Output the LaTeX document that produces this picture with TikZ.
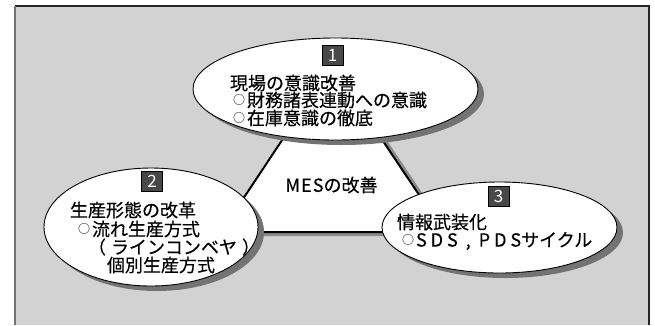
\documentclass[tikz,border=0pt]{standalone}
\usepackage{fontspec}
\setmainfont{Noto Sans CJK JP}[FakeBold=0.35]
\newfontfamily\plainjp{Noto Sans CJK JP}
\usetikzlibrary{shapes.geometric,shadows}
\definecolor{bggray}{RGB}{210,210,210}
\definecolor{ellshadow}{RGB}{115,115,115}
\definecolor{trishadow}{RGB}{138,138,138}
\definecolor{boxgray}{RGB}{72,72,72}
\begin{document}
\begin{tikzpicture}[x=1pt,y=-1pt,
  every node/.style={inner sep=0pt, outer sep=0pt},
  jp/.style={anchor=west, font=\fontsize{18}{18}\selectfont},
  ell/.style={ellipse, draw=black, line width=0.9pt, fill=white,
    drop shadow={shadow xshift=6pt, shadow yshift=-5pt, fill=ellshadow, opacity=1}},
  numbox/.style={draw=black, line width=0.4pt, fill=boxgray, text=white,
    minimum width=21pt, minimum height=20pt, font=\plainjp\fontsize{17}{17}\selectfont}
]
\newcommand{\smallcirc}{\raisebox{2.5pt}{\plainjp\fontsize{12}{12}\selectfont ○}\hspace{2pt}}
\useasboundingbox (0,0) rectangle (655,325);
% frame
\fill[bggray] (15,6) rectangle (649,325);
\draw[line width=1.5pt, black!85] (15,6) -- (649,6) -- (649,325);
\draw[line width=1.8pt, black!55] (15,6) -- (15,325);
% triangle
\coordinate (ta) at (332,65);
\coordinate (tl) at (221,232);
\coordinate (tr) at (444,232);
\fill[trishadow] ([shift={(7,4)}]ta) -- ([shift={(7,4)}]tl) -- ([shift={(7,4)}]tr) -- cycle;
\draw[line width=2pt, fill=white] (ta) -- (tl) -- (tr) -- cycle;
\node[font=\fontsize{18}{18}\selectfont] (mes) at (331.5,185) {{\addfontfeature{LetterSpace=6}MES}の改善};
% ellipses
\node[ell, minimum width=285pt, minimum height=102pt] (e1) at (335.5,89) {};
\node[ell, minimum width=214pt, minimum height=118pt] (e2) at (151,227) {};
\node[ell, minimum width=235pt, minimum height=91pt] (e3) at (499.5,227.5) {};
% number boxes
\node[numbox] (n1) at (332.5,55) {1};
\node[numbox] (n2) at (152,181) {2};
\node[numbox] (n3) at (498.5,196) {3};
% texts ellipse 1
\node[jp] (t1a) at (230,83) {現場の意識改善};
\node[jp] (t1b) at (233,100) {\smallcirc 財務諸表連動への意識};
\node[jp] (t1c) at (233,118) {\smallcirc 在庫意識の徹底};
% texts ellipse 2
\node[jp] (t2a) at (70,210) {生産形態の改革};
\node[jp] (t2b) at (78,229) {\smallcirc 流れ生産方式};
\node[jp] (t2c) at (88,247) {（\hspace{5pt}ラインコンベヤ\hspace{5pt}）};
\node[jp] (t2d) at (107,265) {個別生産方式};
% texts ellipse 3
\node[jp] (t3a) at (397,222) {情報武装化};
\node[jp] (t3b) at (402,241) {\smallcirc {\addfontfeature{LetterSpace=22}SDS , PDS}サイクル};
\end{tikzpicture}
\end{document}
